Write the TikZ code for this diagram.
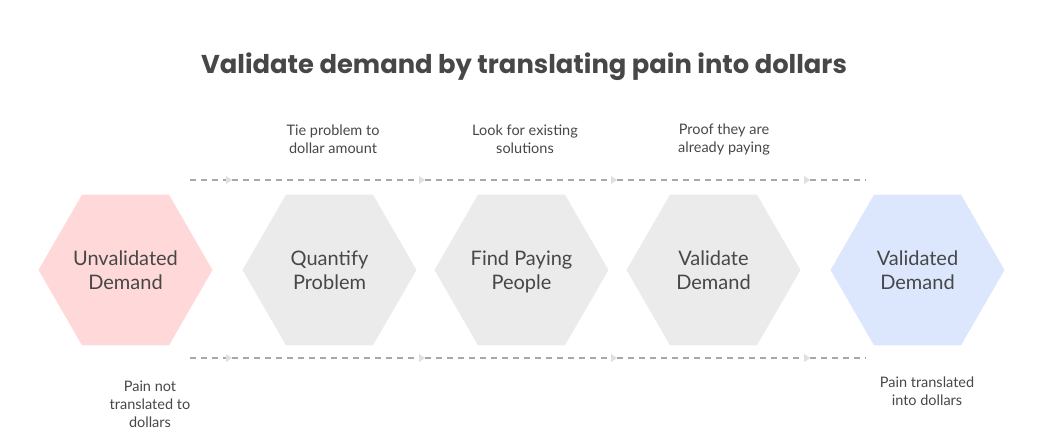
\documentclass[tikz,border=0pt]{standalone}
\usepackage{fontspec}
\setmainfont{Lato}
\newfontfamily\titlefont{Poppins}
\usetikzlibrary{shapes.geometric,arrows.meta}

\definecolor{inkgray}{HTML}{474747}
\definecolor{dashgray}{HTML}{A8A8A8}
\definecolor{tipgray}{HTML}{E0E0E0}
\definecolor{startpink}{HTML}{FFD9D9}
\definecolor{stepgray}{HTML}{EBEBEB}
\definecolor{endblue}{HTML}{DCE7FD}

\tikzset{
  hexa/.style={regular polygon, regular polygon sides=6, minimum size=174pt,
    inner sep=0pt, align=center, text depth=0pt, text=inkgray,
    font=\fontsize{20}{24}\selectfont},
  note/.style={align=center, text=inkgray, font=\fontsize{14.5}{18}\selectfont},
  flow/.style={dashgray, line width=1.1pt, dash pattern=on 6pt off 5pt},
  flowtip/.style={flow, -{Triangle[length=6pt, width=8pt, color=tipgray, fill=tipgray]}}
}

\begin{document}
\begin{tikzpicture}[x=1pt, y=-1pt]
  \useasboundingbox (0,0) rectangle (1048,441);

  % Title
  \node[text=inkgray, font=\titlefont\bfseries\fontsize{25.8}{30}\selectfont] (title) at (524,67)
    {Validate demand by translating pain into dollars};

  % Stages
  \node[hexa, fill=startpink] (unval) at (125.5,270) {Unvalidated\\Demand};
  \node[hexa, fill=stepgray] (quant) at (329.5,270) {Quantify\\Problem};
  \node[hexa, fill=stepgray] (find) at (521.5,270) {Find Paying\\People};
  \node[hexa, fill=stepgray] (valid) at (713.5,270) {Validate\\Demand};
  \node[hexa, fill=endblue] (done) at (917.5,270) {Validated\\Demand};

  % Dashed rails, top and bottom
  \coordinate (t0) at (190,180);
  \coordinate (t1) at (232,180);
  \coordinate (t2) at (425,180);
  \coordinate (t3) at (617,180);
  \coordinate (t4) at (810,180);
  \coordinate (t5) at (866,180);
  \coordinate (b0) at (190,358);
  \coordinate (b1) at (232,358);
  \coordinate (b2) at (425,358);
  \coordinate (b3) at (617,358);
  \coordinate (b4) at (810,358);
  \coordinate (b5) at (866,358);

  \draw[flowtip] (t0) -- (t1);
  \draw[flowtip] (t1) -- (t2);
  \draw[flowtip] (t2) -- (t3);
  \draw[flowtip] (t3) -- (t4);
  \draw[flow] (t4) -- (t5);
  \draw[flowtip] (b0) -- (b1);
  \draw[flowtip] (b1) -- (b2);
  \draw[flowtip] (b2) -- (b3);
  \draw[flowtip] (b3) -- (b4);
  \draw[flow] (b4) -- (b5);

  % Step notes
  \node[note] (noteq) at (333,139) {Tie problem to\\dollar amount};
  \node[note] (notef) at (525,139) {Look for existing\\solutions};
  \node[note] (notev) at (724,139) {Proof they are\\already paying};
  \node[note] (noteu) at (150,404) {Pain not\\translated to\\dollars};
  \node[note] (noted) at (927,391) {Pain translated\\into dollars};
\end{tikzpicture}
\end{document}
